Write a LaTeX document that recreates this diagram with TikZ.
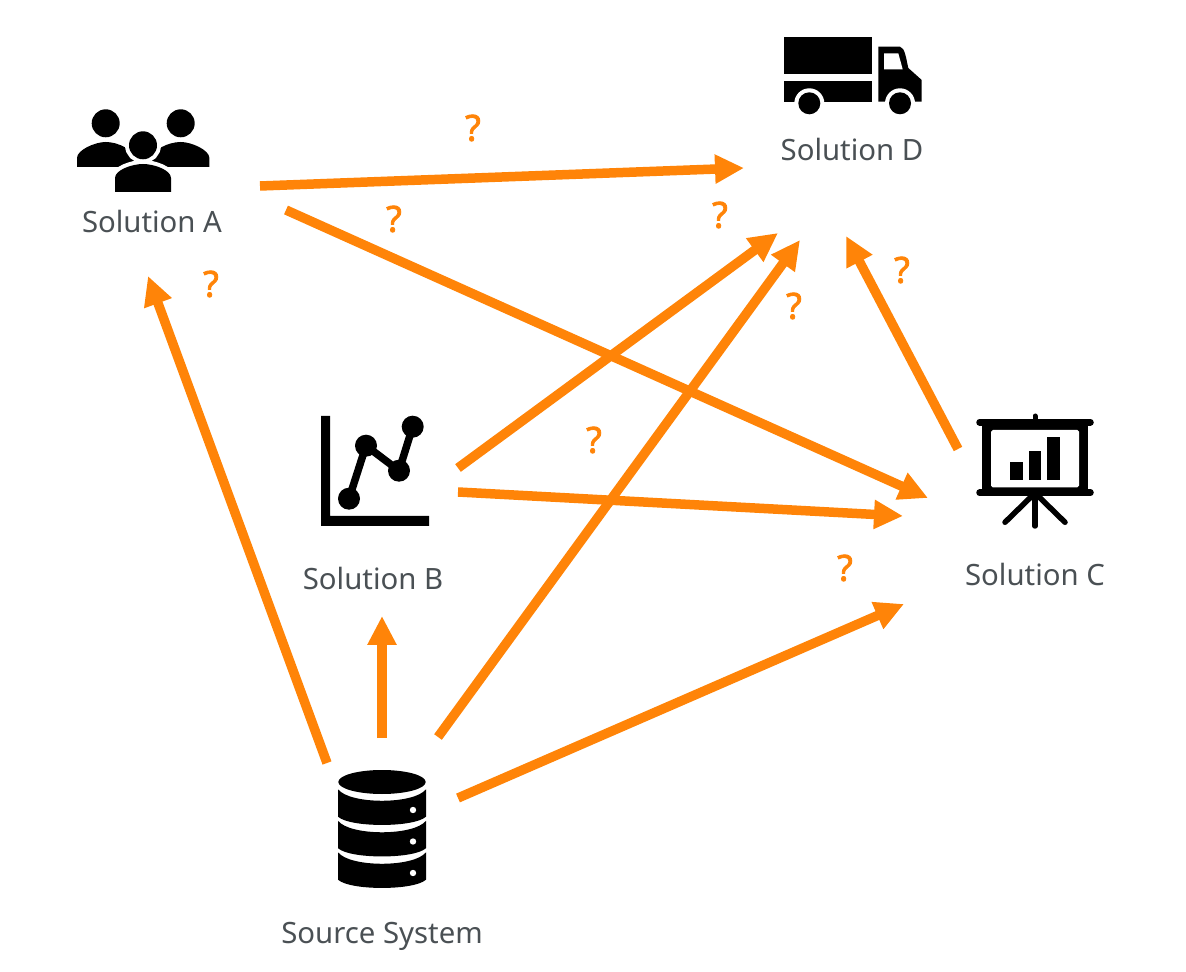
\documentclass[tikz,border=0pt]{standalone}
\usepackage{fontspec}
\setmainfont{Noto Sans}
\newfontfamily\queryfont[FakeBold=2.2]{Noto Sans}
\usetikzlibrary{arrows.meta}
\definecolor{flowcolor}{HTML}{FF8408}
\definecolor{labelcolor}{HTML}{4A5054}
\tikzset{
  flow/.style={draw=flowcolor, line width=0.19cm, -{Triangle[length=0.58cm,width=0.55cm]}},
  solution/.style={text=labelcolor, font=\fontsize{16.7}{18}\selectfont, inner sep=0pt},
  query/.style={text=flowcolor, font=\queryfont\fontsize{20.5}{22}\selectfont, inner sep=0pt},
  halo/.style={preaction={draw=white, line width=0.16cm}, fill=black}
}
\begin{document}
\begin{tikzpicture}[x=0.02cm, y=-0.02cm]
  \useasboundingbox (0,0) rectangle (1186,972);
  % 人群图标
  \fill (105.7,123.3) circle (14);
  \fill (180.7,123.3) circle (14);
  \fill (77,167) -- (77,158) .. controls (77,150) and (95,142) .. (105.7,142)
    .. controls (118,142) and (135,150) .. (135,160) -- (135,167) -- cycle;
  \fill (209.4,167) -- (209.4,158) .. controls (209.4,150) and (191.4,142) .. (180.7,142)
    .. controls (168.4,142) and (151.4,150) .. (151.4,160) -- (151.4,167) -- cycle;
  \path[halo] (143,145.3) circle (14);
  \path[halo] (115,192) -- (115,178) .. controls (115,170) and (132,164) .. (143,164)
    .. controls (154,164) and (171,170) .. (171,178) -- (171,192) -- cycle;
  % 卡车图标
  \fill (784,36.7) rectangle (871.7,74.3);
  \fill (784,81) rectangle (871.7,101.7);
  \fill (878.3,46.7) -- (900,46.7) .. controls (905,48) and (906,58) .. (908.3,68)
    -- (921.7,80) -- (921.7,101.7) -- (878.3,101.7) -- cycle;
  \fill[white] (884,53.3) -- (898.3,53.3) -- (902.7,69.3) -- (884,69.3) -- cycle;
  \foreach \x in {809.3,900} {
    \fill[white] (\x,103.3) circle (15);
    \fill (\x,103.3) circle (11);
  }
  % 折线图图标
  \fill (321,416) -- (330,416) -- (330,516) -- (429,516) -- (429,526) -- (321,526) -- cycle;
  \draw[line width=0.15cm] (349,498.7) -- (366,445.7) -- (399,470.7) -- (412.7,426.7);
  \foreach \x/\y in {349/498.7,366/445.7,399/470.7,412.7/426.7}
    \fill (\x,\y) circle (11);
  % 幕布图标
  \fill (982.3,422) rectangle (1087.7,492);
  \fill[white, rounded corners=1] (991,430) rectangle (1079,487.3);
  \fill (1010,462) rectangle (1023,480);
  \fill (1029,451) rectangle (1041,480);
  \fill (1047.3,436.7) rectangle (1060,480);
  \draw[line width=0.13cm, line cap=round] (979.5,422.3) -- (1090.5,422.3);
  \draw[line width=0.13cm, line cap=round] (979.5,492.7) -- (1090.5,492.7);
  \draw[line width=0.1cm, line cap=round] (1035,416) -- (1035,422);
  \draw[line width=0.11cm, line cap=round] (1035,493) -- (1035,526);
  \draw[line width=0.11cm, line cap=round] (1005,522.3) -- (1035,493) -- (1065,522.3);
  % 数据库图标
  \fill (382,782) ellipse (43.7 and 12);
  \foreach \s in {0,31.5,63} {
    \fill (338,789.3+\s) .. controls (350,804.6+\s) and (414,804.6+\s) .. (426,789.3+\s)
      -- (426,816.7+\s) .. controls (414,827.7+\s) and (350,827.7+\s) .. (338,816.7+\s) -- cycle;
    \fill[white] (413,810+\s) circle (3.2);
  }
  % 标签
  \node[solution] (solutionA) at (152,222) {Solution A};
  \node[solution] (solutionB) at (373,578) {Solution B};
  \node[solution] (solutionC) at (1035,574) {Solution C};
  \node[solution] (solutionD) at (852,150) {Solution D};
  \node[solution] (sourceSystem) at (382,936) {Source System};
  % 问号
  \foreach \n/\x/\y in {qa/473/128,qb/394/219,qc/211/284,qd/720/215,qe/794/306,qf/902/270,qg/594/440,qh/845/568}
    \node[query] (\n) at (\x,\y) {?};
  % 箭头端点
  \coordinate (aOutD) at (260,186);
  \coordinate (dInA) at (744,168);
  \coordinate (aOutC) at (286,210);
  \coordinate (cInA) at (928,498);
  \coordinate (sOutA) at (327,763);
  \coordinate (aInS) at (148,276);
  \coordinate (sOutB) at (382,738);
  \coordinate (bInS) at (382,616);
  \coordinate (sOutD) at (438,737);
  \coordinate (dInS) at (800,240);
  \coordinate (sOutC) at (458,798);
  \coordinate (cInS) at (904,604);
  \coordinate (bOutD) at (458,468);
  \coordinate (dInB) at (778,233);
  \coordinate (bOutC) at (458,492);
  \coordinate (cInB) at (903,516);
  \coordinate (cOutD) at (958,449);
  \coordinate (dInC) at (846,236);
  % 箭头
  \foreach \from/\to in {aOutD/dInA,aOutC/cInA,sOutA/aInS,sOutB/bInS,sOutD/dInS,sOutC/cInS,bOutD/dInB,bOutC/cInB,cOutD/dInC}
    \draw[flow] (\from) -- (\to);
\end{tikzpicture}
\end{document}
